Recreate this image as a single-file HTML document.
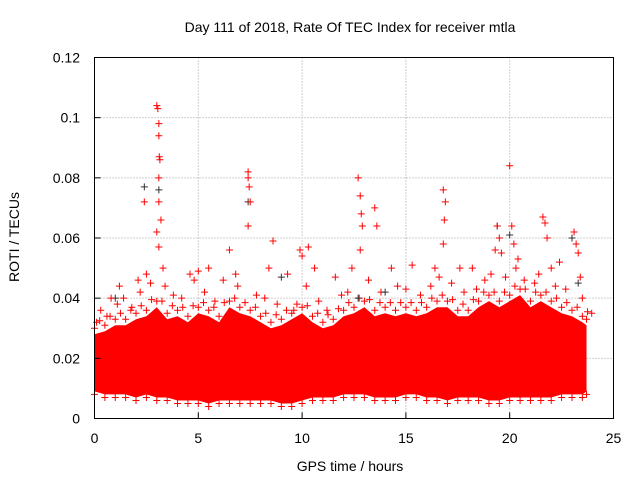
<!DOCTYPE html>
<html><head><meta charset="utf-8"><style>
body{margin:0;background:#fff;}
svg text{font-family:"Liberation Sans",sans-serif;font-size:14px;fill:#000;}
</style></head><body>
<svg id="chart" width="640" height="480" viewBox="0 0 640 480" xmlns="http://www.w3.org/2000/svg">
<rect width="640" height="480" fill="#fff"/>
<text x="350" y="32" text-anchor="middle">Day 111 of 2018, Rate Of TEC Index for receiver mtla</text>
<text transform="translate(19,237) rotate(-90)" text-anchor="middle">ROTI / TECUs</text>
<text x="350" y="471" text-anchor="middle">GPS time / hours</text>
<g id="grid"></g>
<g id="marks"></g>
<rect x="94.5" y="57.5" width="519" height="361" fill="none" stroke="#000" stroke-width="1"/>
<g id="ticks"></g>
</svg>
<script>
const xTicks=[0,5,10,15,20,25];
const yTicks=[0,0.02,0.04,0.06,0.08,0.1,0.12];
const yTickLabels=["0","0.02","0.04","0.06","0.08","0.1","0.12"];
const bandTimes=[0,0.5,1,1.5,2,2.5,3,3.5,4,4.5,5,5.5,6,6.5,7,7.5,8,8.5,9,9.5,10,10.5,11,11.5,12,12.5,13,13.5,14,14.5,15,15.5,16,16.5,17,17.5,18,18.5,19,19.5,20,20.5,21,21.5,22,22.5,23,23.5,23.7];
const bandUpper=[0.028,0.029,0.031,0.031,0.033,0.034,0.037,0.033,0.034,0.032,0.035,0.034,0.032,0.037,0.035,0.034,0.032,0.03,0.031,0.033,0.035,0.032,0.03,0.031,0.034,0.035,0.037,0.034,0.035,0.034,0.035,0.034,0.035,0.037,0.037,0.034,0.034,0.037,0.039,0.037,0.039,0.041,0.037,0.039,0.037,0.035,0.034,0.032,0.031];
const bandLower=[0.009,0.008,0.008,0.008,0.007,0.008,0.007,0.007,0.006,0.006,0.006,0.005,0.006,0.006,0.006,0.006,0.006,0.006,0.005,0.005,0.006,0.007,0.007,0.007,0.008,0.008,0.008,0.007,0.007,0.007,0.008,0.008,0.007,0.007,0.006,0.007,0.007,0.007,0.006,0.006,0.007,0.007,0.007,0.007,0.007,0.008,0.008,0.008,0.009];
const fringeT=[0.3,0.6,1.1,1.4,1.8,2.2,2.7,3.4,3.8,4.2,4.8,5.3,5.8,6.2,6.9,7.8,8.2,8.8,9.6,10.2,10.8,11.2,11.9,12.2,13.2,13.8,14.6,15.0,15.7,16.2,16.6,17.2,17.8,18.4,18.8,19.1,19.8,20.3,20.7,21.2,21.4,22.2,22.7,23.5];
const fringeV=[0.036,0.034,0.038,0.04,0.037,0.042,0.045,0.044,0.041,0.04,0.046,0.042,0.039,0.046,0.044,0.041,0.04,0.038,0.036,0.044,0.039,0.036,0.041,0.042,0.046,0.042,0.044,0.043,0.041,0.044,0.047,0.045,0.042,0.043,0.046,0.048,0.047,0.05,0.046,0.045,0.048,0.044,0.043,0.04];
const outT=[0.1,0.8,1.2,2.1,2.4,2.5,3.0,3.05,3.1,3.1,3.12,3.15,3.1,3.1,3.2,3.0,3.1,3.3,4.6,5.0,5.5,6.5,6.8,7.4,7.4,7.45,7.5,7.4,8.4,8.6,9.3,9.9,10.0,10.3,10.6,11.6,12.4,12.7,12.8,12.85,12.9,12.8,13.5,13.6,14.3,15.3,16.4,16.8,16.9,16.85,16.8,17.6,18.2,19.4,19.5,19.3,19.6,20.0,20.1,20.2,20.4,21.6,21.7,21.8,22.0,22.4,23.1,23.2,23.3,23.4];
const outV=[0.032,0.04,0.044,0.046,0.072,0.048,0.104,0.103,0.098,0.094,0.087,0.086,0.08,0.072,0.066,0.062,0.057,0.05,0.048,0.049,0.05,0.056,0.048,0.082,0.08,0.077,0.072,0.064,0.05,0.059,0.048,0.056,0.054,0.057,0.05,0.047,0.05,0.08,0.074,0.068,0.064,0.056,0.07,0.064,0.05,0.051,0.05,0.076,0.072,0.066,0.058,0.05,0.05,0.064,0.06,0.056,0.055,0.084,0.064,0.058,0.053,0.067,0.065,0.06,0.05,0.052,0.062,0.058,0.055,0.047];
const darkT=[2.4,3.1,7.4,9.0,12.7,19.4,20.0,23.0,23.3,1.0,14.0];
const darkV=[0.077,0.076,0.072,0.047,0.04,0.064,0.061,0.06,0.045,0.04,0.042];

const X0=94.5,X1=613.5,Y0=418.5,Y1=57.5;
const xs=t=>X0+(t/25)*(X1-X0);
const ys=v=>Y0-(v/0.12)*(Y0-Y1);
const NS="http://www.w3.org/2000/svg";
function mk(tag,attrs,parent){const e=document.createElementNS(NS,tag);for(const k in attrs)e.setAttribute(k,attrs[k]);parent.appendChild(e);return e;}
const grid=document.getElementById('grid'),ticks=document.getElementById('ticks'),marks=document.getElementById('marks');
xTicks.forEach((t,i)=>{
  const x=xs(t);
  if(i>0&&i<xTicks.length-1){const g=mk('line',{x1:x,x2:x,y1:Y1,y2:Y0,stroke:'#a0a0a0','stroke-dasharray':'1,2'},grid);
  
  }
  const l=mk('line',{x1:x,x2:x,y1:Y0,y2:Y0-6,stroke:'#000'},ticks);
  
  
  const tx=mk('text',{x:x,y:443,'text-anchor':'middle'},ticks);tx.textContent=String(t);
  
  
});
yTicks.forEach((v,i)=>{
  const y=ys(v);
  if(i>0&&i<yTicks.length-1){const g=mk('line',{x1:X0,x2:X1,y1:y,y2:y,stroke:'#a0a0a0','stroke-dasharray':'1,2'},grid);
  
  }
  const l=mk('line',{x1:X0,x2:X0+6,y1:y,y2:y,stroke:'#000'},ticks);
  
  
  const tx=mk('text',{x:80,y:y+5,'text-anchor':'end'},ticks);tx.textContent=yTickLabels[i];
  
  
});
let d='M'+bandTimes.map((t,i)=>xs(t)+','+ys(bandUpper[i])).join('L');
for(let i=bandTimes.length-1;i>=0;i--)d+='L'+xs(bandTimes[i])+','+ys(bandLower[i]);
d+='Z';
const band=mk('path',{d:d,fill:'#ff0000'},marks);


function plus(t,v,col,name){
  const x=xs(t),y=ys(v);
  const p=mk('path',{d:`M${x-3.5},${y}H${x+3.5}M${x},${y-3.5}V${y+3.5}`,stroke:col,'stroke-width':1,fill:'none'},marks);
  
  
}
bandTimes.forEach((t,i)=>{plus(t,bandUpper[i]+0.002,'#ff0000','envelope-point');plus(t+0.25,(bandUpper[i]+(bandUpper[i+1]||bandUpper[i]))/2+0.004,'#ff0000','envelope-point');plus(t,bandLower[i]-0.001,'#ff0000','envelope-point');});
fringeT.forEach((t,i)=>plus(t,fringeV[i],'#ff0000','fringe-point'));
darkT.forEach((t,i)=>plus(t,darkV[i],'#303030','dark-series-point'));
outT.forEach((t,i)=>plus(t,outV[i],'#ff0000','outlier-point'));
</script>
</body></html>
